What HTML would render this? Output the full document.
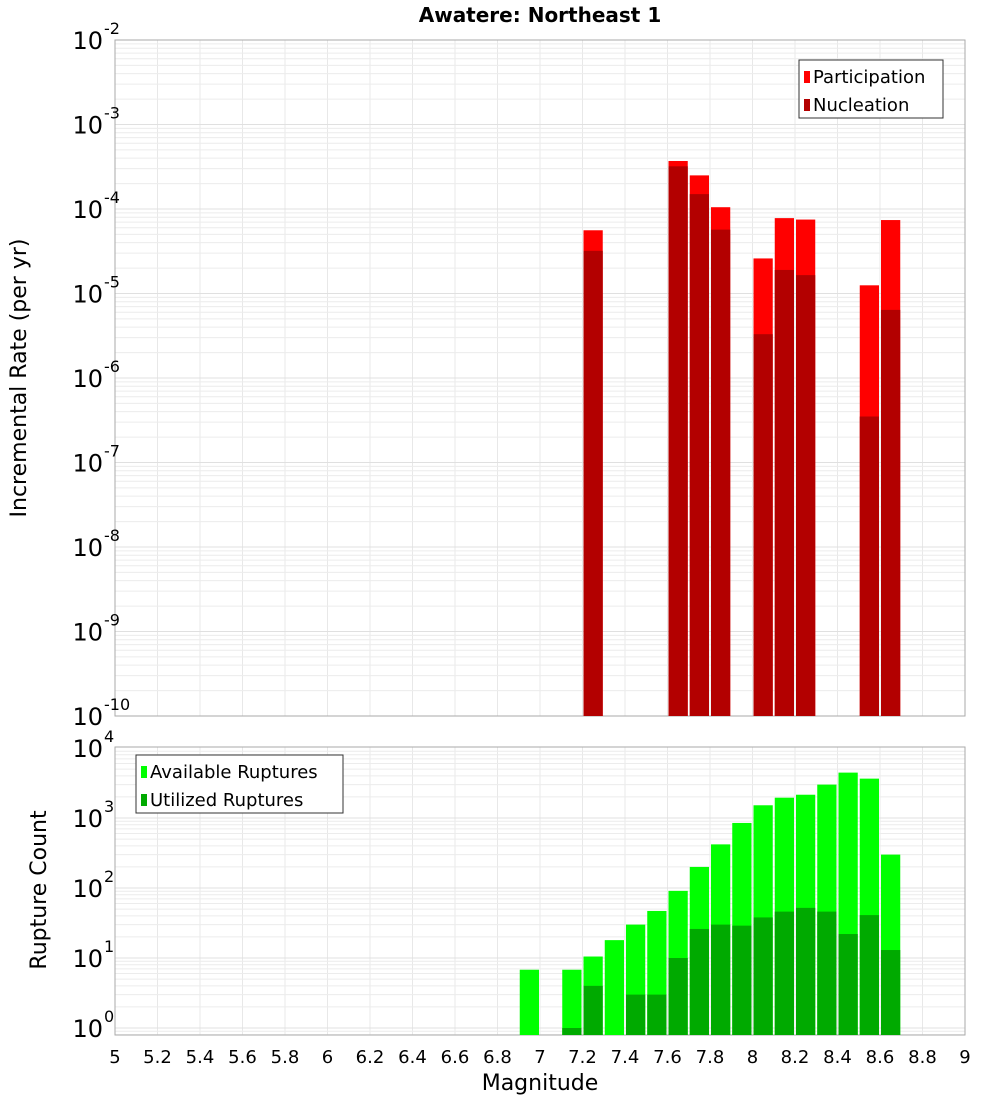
<!DOCTYPE html>
<html><head><meta charset="utf-8"><style>
body{margin:0;background:#fff;font-family:"DejaVu Sans","Liberation Sans",sans-serif}
</style></head><body>
<svg id="chart" width="1000" height="1100" xmlns="http://www.w3.org/2000/svg" font-family="DejaVu Sans, Liberation Sans, sans-serif">
<rect width="1000" height="1100" fill="#fff"/>
<text x="540" y="22" text-anchor="middle" font-size="20" font-weight="bold">Awatere: Northeast 1</text>
<g id="top"></g><g id="bot"></g>
<text transform="translate(26,378) rotate(-90)" text-anchor="middle" font-size="22">Incremental Rate (per yr)</text>
<text transform="translate(46,890) rotate(-90)" text-anchor="middle" font-size="22">Rupture Count</text>
<text x="540" y="1090" text-anchor="middle" font-size="22">Magnitude</text>
</svg>
<script>
const topMags=[7.2,7.6,7.7,7.8,8.0,8.1,8.2,8.5,8.6];
const participation=[5.6e-5,3.7e-4,2.5e-4,1.05e-4,2.6e-5,7.8e-5,7.5e-5,1.25e-5,7.4e-5];
const nucleation=[3.2e-5,3.2e-4,1.5e-4,5.7e-5,3.3e-6,1.9e-5,1.65e-5,3.5e-7,6.4e-6];
const botMags=[6.9,7.1,7.2,7.3,7.4,7.5,7.6,7.7,7.8,7.9,8.0,8.1,8.2,8.3,8.4,8.5,8.6];
const available=[6.8,6.8,10.5,18,30,47,91,200,420,850,1520,1950,2150,3000,4450,3650,300];
const utilized=[0,1,4,0,3,3,10,26,30,29,38,46,52,46,22,41,13];
const xTicks=[5,5.2,5.4,5.6,5.8,6,6.2,6.4,6.6,6.8,7,7.2,7.4,7.6,7.8,8,8.2,8.4,8.6,8.8,9];
const topExp=[-2,-3,-4,-5,-6,-7,-8,-9,-10];
const botExp=[4,3,2,1,0];
const NS="http://www.w3.org/2000/svg";
const L=115,R=965;
const xs=m=>L+(m-5)*(R-L)/4;
function el(p,t,a){const e=document.createElementNS(NS,t);for(const k in a)e.setAttribute(k,a[k]);p.appendChild(e);return e;}
function panel(g,y0,y1,yOf,eMin,eMax,name){
  // minor grid
  for(let m=5;m<=9.001;m+=0.2){const l=el(g,'line',{x1:xs(m),x2:xs(m),y1:y0,y2:y1,stroke:'#e8e8e8'});}
  for(let e=Math.floor(eMin);e<eMax;e++){for(let k=1;k<10;k++){const y=yOf(k*Math.pow(10,e));if(y<y0-0.5||y>y1+0.5)continue;const l=el(g,'line',{x1:L,x2:R,y1:y,y2:y,stroke:k==1?'#e0e0e0':'#ececec'});}}
  const f=el(g,'rect',{x:L,y:y0,width:R-L,height:y1-y0,fill:'none',stroke:'#aaa'});
  
}
function bar(g,m,v,yb,yOf,col,name){
  const x=xs(m)+1,w=xs(m+0.1)-xs(m)-2;const y=Math.max(yOf(v),0);
  const r=el(g,'rect',{x:x,y:y,width:w,height:Math.max(yb-y,0),fill:col});
  
}
function ylab(g,x,y,e,name){
  const t=el(g,'text',{x:x,y:y+9,'text-anchor':'end','font-size':24});
  
  t.textContent='10';
  const s=el(g,'text',{x:x+1,y:y-6,'font-size':16});
  
  s.textContent=String(e);
}
function legend(g,x,y,w,items,name){
  const b=el(g,'rect',{x:x,y:y,width:w,height:58,fill:'#fff',stroke:'#333'});
  
  items.forEach((it,i)=>{
    const s=el(g,'rect',{x:x+5,y:y+11+i*28,width:6,height:12,fill:it[1]});
    
    const t=el(g,'text',{x:x+14,y:y+23+i*28,'font-size':18});
    
    t.textContent=it[0];
  });
}
// top panel
const tg=document.getElementById('top');
const T0=40,T1=716;
const yT=v=>T0+(-2-Math.log10(v))*(T1-T0)/8;
panel(tg,T0,T1,yT,-10,-2,'top');
topMags.forEach((m,i)=>bar(tg,m,participation[i],T1,yT,'#ff0000','participation-bar'));
topMags.forEach((m,i)=>bar(tg,m,nucleation[i],T1,yT,'#b30000','nucleation-bar'));
topExp.forEach(e=>ylab(tg,103,yT(Math.pow(10,e)),e,'top-y-tick-label'));
legend(tg,799,60,144,[['Participation','#ff0000'],['Nucleation','#b30000']],'top-legend');
// bottom panel
const bg=document.getElementById('bot');
const B0=747,B1=1035,D=70,Y0=1028;
const yB=v=>Y0-Math.log10(v)*D;
panel(bg,B0,B1,yB,-1,4,'bottom');
botMags.forEach((m,i)=>{if(available[i]>0)bar(bg,m,available[i],B1,yB,'#00ff00','available-bar');});
botMags.forEach((m,i)=>{if(utilized[i]>0)bar(bg,m,utilized[i],B1,yB,'#00aa00','utilized-bar');});
botExp.forEach(e=>ylab(bg,103,yB(Math.pow(10,e)),e,'bottom-y-tick-label'));
legend(bg,136,755,207,[['Available Ruptures','#00ff00'],['Utilized Ruptures','#00aa00']],'bottom-legend');
// x ticks
xTicks.forEach(m=>{
  const t=el(bg,'text',{x:xs(m),y:1063,'text-anchor':'middle','font-size':18});
  
  t.textContent=String(m);
});
</script>
</body></html>
